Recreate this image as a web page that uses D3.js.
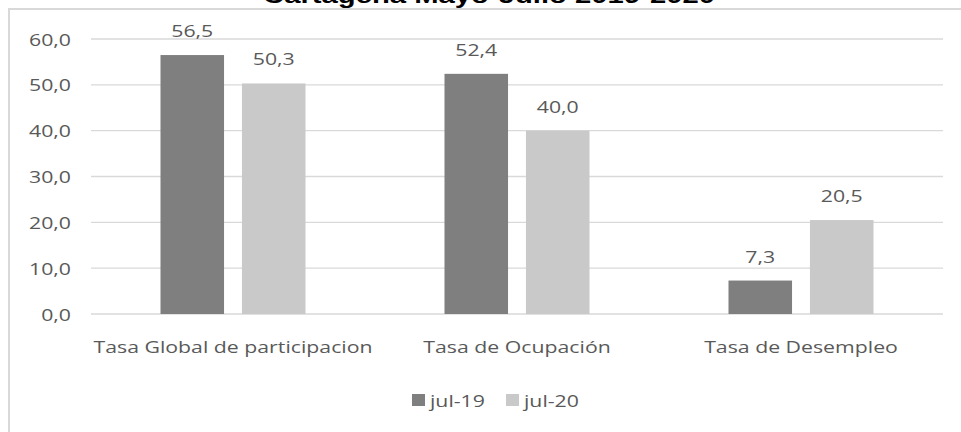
<!DOCTYPE html>
<html>
<head>
<meta charset="utf-8">
<script src="https://cdn.jsdelivr.net/npm/d3@7"></script>
<style>
  body { margin: 0; background: #fff; }
  svg { display: block; }
</style>
</head>
<body>
<div id="container"></div>
<script>
const title = "Cartagena Mayo-Julio 2019-2020";
const categories = ["Tasa Global de participacion", "Tasa de Ocupación", "Tasa de Desempleo"];
const seriesNames = ["jul-19", "jul-20"];
const jul19 = [56.5, 52.4, 7.3];
const jul20 = [50.3, 40.0, 20.5];
const yTicks = [0, 10, 20, 30, 40, 50, 60];

const width = 961,
  height = 432;
const margin = { top: 39, right: 18, bottom: 118, left: 91 };
const colors = ["#7f7f7f", "#c9c9c9"];
const textColor = "#595959";
const SX = 1.33; // the picture is stretched sideways

const svg = d3
  .select("#container")
  .append("svg")
  .attr("width", width)
  .attr("height", height);

const fmt = (v) => v.toFixed(1).replace(".", ",");

// stretched text helper
const addText = (parent, x, y, txt, anchor, size, opts = {}) =>
  parent
    .append("text")
    .attr("transform", `translate(${x},${y}) scale(${opts.sx || SX},1)`)
    .attr("text-anchor", anchor)
    .attr("font-family", opts.family || "'Open Sans', sans-serif")
    .attr("font-weight", opts.weight || "normal")
    .attr("font-size", size)
    .attr("fill", opts.fill || textColor)
    .text(txt);

// frame
svg
  .append("path")
  .attr("d", `M9,${height} V9 H${width}`)
  .attr("fill", "none")
  .attr("stroke", "#d9d9d9")
  .attr("stroke-width", 2);

// title (cut off at top, as in the source)
addText(svg, 489, 3, title, "middle", 22, {
  family: "'Liberation Sans', Arial, sans-serif",
  weight: "bold",
  fill: "#000",
});

const x0 = d3
  .scaleBand()
  .domain(categories)
  .range([margin.left, width - margin.right]);

const groupW = 145;
const x1 = d3
  .scaleBand()
  .domain(seriesNames)
  .range([x0.bandwidth() / 2 - groupW / 2, x0.bandwidth() / 2 + groupW / 2])
  .paddingInner(0.22);

const y = d3
  .scaleLinear()
  .domain([0, 60])
  .range([height - margin.bottom, margin.top]);

// grid
svg
  .append("g")
  .selectAll("line")
  .data(yTicks)
  .enter()
  .append("line")
  .attr("x1", margin.left)
  .attr("x2", width - margin.right)
  .attr("y1", (d) => y(d))
  .attr("y2", (d) => y(d))
  .attr("stroke", "#d9d9d9")
  .attr("stroke-width", 1.4);

// y tick labels
const yLab = svg.append("g");
yTicks.forEach((t) => addText(yLab, 71, y(t) + 6.5, fmt(t), "end", 16));

// bars
const rows = categories.map((c, i) => ({ cat: c, values: [jul19[i], jul20[i]] }));

const group = svg
  .selectAll(".grp")
  .data(rows)
  .enter()
  .append("g")
  .attr("class", "grp")
  .attr("transform", (d) => `translate(${x0(d.cat)},0)`);

group
  .selectAll("rect")
  .data((d) => d.values.map((v, i) => ({ name: seriesNames[i], v })))
  .enter()
  .append("rect")
  .attr("x", (d) => x1(d.name))
  .attr("y", (d) => y(d.v))
  .attr("width", x1.bandwidth())
  .attr("height", (d) => y(0) - y(d.v))
  .attr("fill", (d, i) => colors[i]);

group.each(function (d) {
  const g = d3.select(this);
  d.values.forEach((v, i) => {
    addText(g, x1(seriesNames[i]) + x1.bandwidth() / 2, y(v) - 18, fmt(v), "middle", 16);
  });
});

// category labels
categories.forEach((c) =>
  addText(svg, x0(c) + x0.bandwidth() / 2, y(0) + 39, c, "middle", 16)
);

// legend
const legend = svg.append("g");
const legItems = [
  { name: seriesNames[0], x: 412 },
  { name: seriesNames[1], x: 506 },
];
legItems.forEach((l, i) => {
  legend
    .append("rect")
    .attr("x", l.x)
    .attr("y", 394)
    .attr("width", 13)
    .attr("height", 12)
    .attr("fill", colors[i]);
  addText(legend, l.x + 18, 407, l.name, "start", 16);
});
</script>
</body>
</html>
